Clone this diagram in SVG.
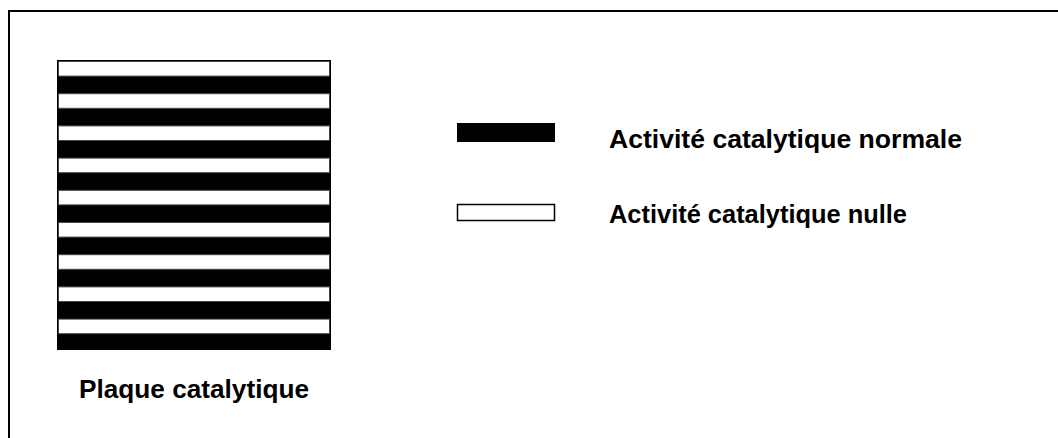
<svg xmlns="http://www.w3.org/2000/svg" width="1058" height="438" viewBox="0 0 1058 438">
<style>
.lbl{font-family:"Liberation Sans",Arial,sans-serif;font-weight:bold;font-size:25px;fill:#000}
.blk{fill:#000}
.wht{fill:#fff;stroke:#444;stroke-width:1}
</style>
<rect width="1058" height="438" fill="#fff"/>
<rect id="frame" x="9" y="11" width="1070" height="450" fill="none" stroke="#000" stroke-width="2"/>
<g id="plaque">
<rect x="57" y="60" width="274" height="290" class="blk"/>
<g class="wht">
<rect x="58.5" y="61.5" width="271" height="14.6"/>
<rect x="58.5" y="93.7" width="271" height="14.6"/>
<rect x="58.5" y="125.9" width="271" height="14.6"/>
<rect x="58.5" y="158.1" width="271" height="14.6"/>
<rect x="58.5" y="190.3" width="271" height="14.6"/>
<rect x="58.5" y="222.5" width="271" height="14.6"/>
<rect x="58.5" y="254.7" width="271" height="14.6"/>
<rect x="58.5" y="286.9" width="271" height="14.6"/>
<rect x="58.5" y="319.1" width="271" height="14.6"/>
</g>
<text class="lbl" x="79" y="398" textLength="230" lengthAdjust="spacingAndGlyphs">Plaque catalytique</text>
</g>
<g id="legend-normale">
<rect x="457" y="123" width="98" height="19" class="blk"/>
<text class="lbl" x="609" y="148" textLength="353" lengthAdjust="spacingAndGlyphs">Activité catalytique normale</text>
</g>
<g id="legend-nulle">
<rect x="457.5" y="204.5" width="97" height="16" fill="#fff" stroke="#000" stroke-width="1.5"/>
<text class="lbl" x="609" y="223" textLength="298" lengthAdjust="spacingAndGlyphs">Activité catalytique nulle</text>
</g>
<g id="connectors"/>
</svg>
